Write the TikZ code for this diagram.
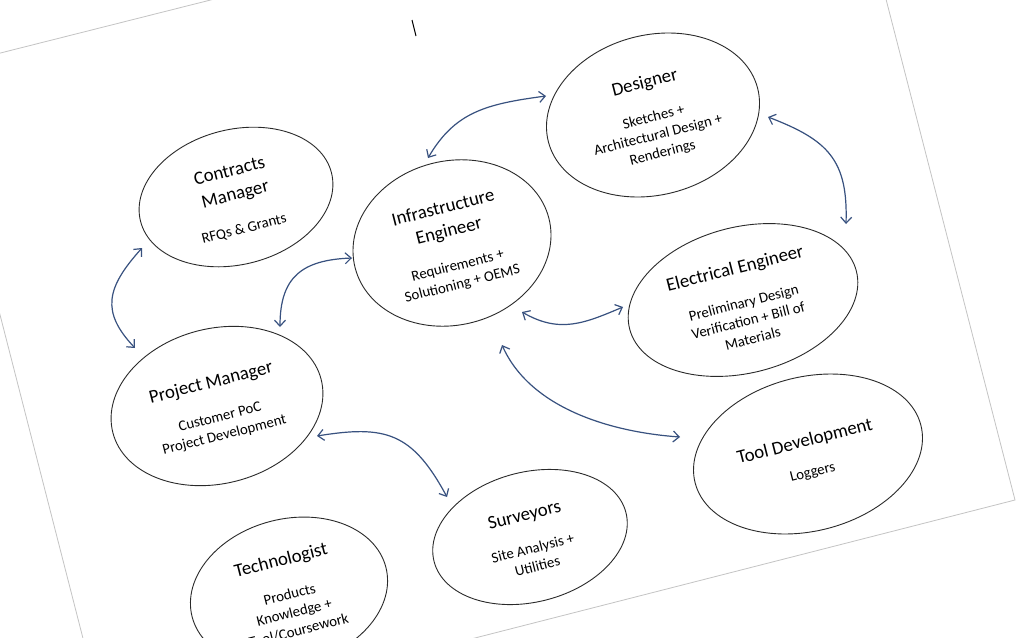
\documentclass[tikz,border=0pt]{standalone}
\usepackage{fontspec}
\setmainfont{Carlito}
\usetikzlibrary{shapes.geometric,arrows.meta,calc}
\definecolor{arrowc}{HTML}{38517F}
\definecolor{pagec}{HTML}{C4C4C4}
\definecolor{ringc}{HTML}{2A2A2A}
\newcommand{\rtitle}{\fontsize{18.8}{18.5}\selectfont}
\newcommand{\rsub}{\fontsize{14.8}{18.5}\selectfont}
\newcommand{\rtop}{\rule{0pt}{18pt}}
\begin{document}
\begin{tikzpicture}[x=1pt,y=-1pt,
  role/.style={ellipse,draw=ringc,line width=0.9pt,inner sep=0pt,rotate=14.3,align=center,font=\rsub},
  link/.style={draw=arrowc,line width=1.2pt,{Straight Barb[length=6pt,width=11pt]}-{Straight Barb[length=6pt,width=11pt]}}]
\useasboundingbox (0,0) rectangle (1017,637);
\clip (0,0) rectangle (1017,637);
\fill[white] (0,0) rectangle (1017,637);
% page outline
\draw[pagec,line width=0.8pt] (-63,69) -- (845,-160) -- (1015,500) -- (107,732) -- cycle;
% cursor mark
\draw[black,line width=1pt] (412,20) -- (416,36);

\node[role,minimum width=197,minimum height=135] (contracts) at (236,197)
  {\rtop\rtitle Contracts\\[5.5pt]\rtitle Manager\\[16pt]RFQs \& Grants};
\node[role,minimum width=200,minimum height=164] (infra) at (452,243)
  {\rtop\rtitle Infrastructure\\[5.5pt]\rtitle Engineer\\[16pt]Requirements +\\Solutioning + OEMS};
\node[role,minimum width=216,minimum height=160] (designer) at (653,115)
  {\rtop\rtitle Designer\\[16pt]Sketches +\\Architectural Design +\\Renderings};
\node[role,minimum width=234,minimum height=146] (elec) at (743,300)
  {\rtop\rtitle Electrical Engineer\\[16pt]Preliminary Design\\Verification + Bill of\\Materials};
\node[role,minimum width=215,minimum height=155] (pm) at (217,406)
  {\rtop\rtitle Project Manager\\[16pt]Customer PoC\\Project Development};
\node[role,minimum width=233,minimum height=154] (tool) at (808,454)
  {\rtop\rtitle Tool Development\\[12pt]Loggers};
\node[role,minimum width=198,minimum height=130] (surv) at (530,537)
  {\rtop\rtitle Surveyors\\[15pt]Site Analysis +\\Utilities};
\node[role,minimum width=200,minimum height=146] (tech) at (289,592)
  {\rtop\rtitle Technologist\\[16pt]Products\\Knowledge +\\Tool/Coursework};

\draw[link] ($(infra)+(-24,-85)$) .. controls +(27,-46) and +(-60,8) .. ($(designer)+(-107,-19)$);
\draw[link] ($(designer)+(115,2)$) .. controls +(60,23) and +(2,-64) .. ($(elec)+(103,-76)$);
\draw[link] ($(infra)+(70,69)$) .. controls +(38,22) and +(-38,16) .. ($(elec)+(-120,7)$);
\draw[link] ($(infra)+(50,102)$) .. controls +(28,63) and +(-70,-5) .. ($(tool)+(-128,-17)$);
\draw[link] ($(contracts)+(-94,51)$) .. controls +(-36,40) and +(-34,-36) .. ($(pm)+(-82,-58)$);
\draw[link] ($(infra)+(-100,15)$) .. controls +(-50,2) and +(0,-50) .. ($(pm)+(63,-79)$);
\draw[link] ($(pm)+(100,30)$) .. controls +(68,-11) and +(-35,-65) .. ($(surv)+(-83,-40)$);
\end{tikzpicture}
\end{document}
